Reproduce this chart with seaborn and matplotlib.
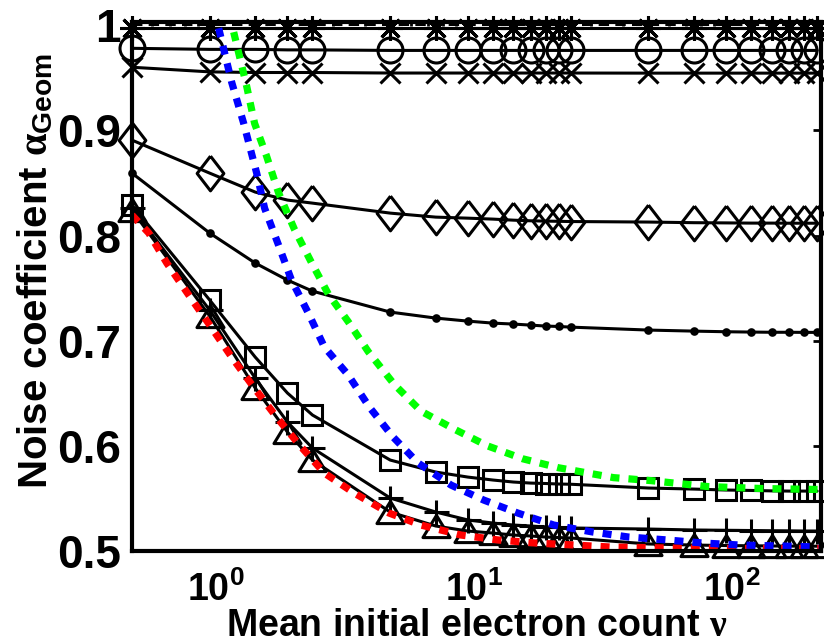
import matplotlib
matplotlib.use("Agg")
import matplotlib.pyplot as plt
import seaborn as sns
from matplotlib.transforms import ScaledTranslation

# sampled electron counts (same for all simulated series)
nu = [0.5, 1, 1.5, 2, 2.5, 5, 7.5, 10, 12.5, 15, 17.5, 20, 22.5, 25,
      50, 75, 100, 125, 150, 175, 200, 225]

alpha_star = [0.997, 0.997, 0.997, 0.997, 0.997, 0.997, 0.997, 0.997, 0.997, 0.997, 0.997,
              0.997, 0.997, 0.997, 0.997, 0.997, 0.997, 0.997, 0.997, 0.997, 0.997, 0.997]
alpha_circle = [0.978, 0.977, 0.977, 0.9765, 0.9765, 0.976, 0.976, 0.976, 0.976, 0.976, 0.976,
                0.976, 0.976, 0.976, 0.976, 0.976, 0.976, 0.976, 0.976, 0.976, 0.976, 0.976]
alpha_cross = [0.960, 0.9556, 0.955, 0.955, 0.955, 0.9545, 0.9545, 0.9545, 0.9545, 0.9545, 0.9545,
               0.9545, 0.9545, 0.9545, 0.9544, 0.9544, 0.9544, 0.9544, 0.9544, 0.9544, 0.9544, 0.9544]
alpha_diamond = [0.8907, 0.8593, 0.8413, 0.8337, 0.8308, 0.8213, 0.8175, 0.8165, 0.8156, 0.8146, 0.8140,
                 0.8137, 0.8135, 0.8133, 0.8128, 0.8122, 0.8120, 0.8118, 0.8118, 0.8117, 0.8117, 0.8117]
alpha_dot = [0.8593, 0.8023, 0.7738, 0.7576, 0.7471, 0.7272, 0.7215, 0.7186, 0.7167, 0.7158, 0.7148,
             0.7139, 0.7135, 0.7129, 0.7101, 0.7091, 0.7085, 0.7082, 0.7080, 0.7080, 0.7079, 0.7079]
alpha_square = [0.8289, 0.7386, 0.6844, 0.6502, 0.6293, 0.5865, 0.5751, 0.5703, 0.5675, 0.5656, 0.5646,
                0.5642, 0.5637, 0.5635, 0.5599, 0.5589, 0.5580, 0.5576, 0.5572, 0.5570, 0.5570, 0.5570]
alpha_plus = [0.826, 0.729, 0.6644, 0.6226, 0.5979, 0.5504, 0.5371, 0.5295, 0.5266, 0.5247, 0.5238,
              0.5228, 0.5224, 0.5219, 0.5209, 0.5200, 0.5197, 0.5195, 0.5193, 0.5192, 0.5190, 0.5190]
alpha_triangle = [0.824, 0.7234, 0.655, 0.6131, 0.5865, 0.537, 0.5238, 0.519, 0.5171, 0.5152, 0.5143,
                  0.5133, 0.5128, 0.5124, 0.5067, 0.5057, 0.5052, 0.5050, 0.5048, 0.5047, 0.5046, 0.5046]

# dotted model curves
nu_red = [0.5, 0.581, 0.682, 0.83, 1.0, 1.216, 1.479, 1.814, 2.226, 2.78, 3.63, 4.95,
          6.58, 9.4, 13.1, 18.3, 25.7, 35.7, 59, 113, 233]
alpha_red = [0.8194, 0.8023, 0.7738, 0.7433, 0.7148, 0.6844, 0.6559, 0.6274, 0.6008, 0.5741, 0.5551, 0.5361,
             0.5247, 0.5152, 0.5105, 0.5076, 0.5057, 0.5038, 0.5029, 0.5024, 0.5024]
nu_blue = [1.083, 1.216, 1.353, 1.52, 1.631, 1.847, 2.073, 2.41, 2.78, 3.44, 4.15, 5.13,
           6.41, 8.6, 11.5, 15.6, 21.5, 30.4, 41.9, 59.2, 81.5, 113, 159, 233]
alpha_blue = [0.9971, 0.9458, 0.9068, 0.8593, 0.8260, 0.7909, 0.7576, 0.7262, 0.6939, 0.6673, 0.6369, 0.6084,
              0.5837, 0.5627, 0.5485, 0.5361, 0.5247, 0.5181, 0.5133, 0.5105, 0.5076, 0.5057, 0.5048, 0.5038]
nu_green = [1.238, 1.39, 1.492, 1.66, 1.847, 2.13, 2.475, 2.88, 3.44, 4.11, 5.18, 6.58, 8.83,
            11.9, 16.3, 22.4, 36.6, 50.9, 84.5, 139, 233]
alpha_green = [0.9934, 0.942, 0.9066, 0.8755, 0.8406, 0.8057, 0.7745, 0.7443, 0.718, 0.6896, 0.6585, 0.633,
               0.616, 0.600, 0.5877, 0.5792, 0.5698, 0.567, 0.5613, 0.5594, 0.5585]

sns.set_theme(style="white")
plt.rcParams["font.family"] = ["Liberation Sans", "DejaVu Sans"]
plt.rcParams["font.weight"] = "bold"
plt.rcParams["text.color"] = "black"
plt.rcParams["axes.labelcolor"] = "black"
plt.rcParams["mathtext.fontset"] = "custom"
plt.rcParams["mathtext.rm"] = "Liberation Sans:bold"
plt.rcParams["mathtext.bf"] = "Liberation Sans:bold"
plt.rcParams["mathtext.it"] = "Liberation Serif"

fig = plt.figure(figsize=(8.24, 6.42), dpi=100, facecolor="white")
ax = fig.add_axes([0.1602, 0.1417, 0.8362, 0.824])

diamond = [(0, 1), (0.77, 0), (0, -1), (-0.77, 0), (0, 1)]
triangle = [(0, 1), (1.22, -1), (-1.22, -1), (0, 1)]

series = [
    (alpha_star, (8, 2, 0), 18),
    (alpha_circle, "o", 18),
    (alpha_cross, "x", 14),
    (alpha_diamond, diamond, 25),
    (alpha_dot, "o", 4),
    (alpha_square, "s", 14),
    (alpha_plus, "+", 18),
    (alpha_triangle, triangle, 19.5),
]
for vals, mk, ms in series:
    filled = mk == "o" and ms < 6
    sns.lineplot(x=nu, y=vals, ax=ax, color="black", linewidth=2.2, marker=mk, markersize=ms,
                 markeredgewidth=2.2, markerfacecolor="black" if filled else "none",
                 markeredgecolor="black", clip_on=False, zorder=3)

ax.axhline(1.0, color="black", linewidth=1.5, linestyle=(0, (5, 3)), zorder=2)

for xs, ys, col in [(nu_red, alpha_red, "#ff0000"), (nu_blue, alpha_blue, "#0000ff"),
                    (nu_green, alpha_green, "#00ff00")]:
    sns.lineplot(x=xs, y=ys, ax=ax, color=col, linewidth=5.2, linestyle=(0, (1.25, 1.25)), zorder=4)

ax.set_xscale("log")
ax.set_xlim(0.5, 233)
ax.set_ylim(0.5, 1.003)
ax.set_xticks([1, 10, 100])
ax.set_xticklabels([r"$\mathbf{10^{0}}$", r"$\mathbf{10^{1}}$", r"$\mathbf{10^{2}}$"])
ax.set_yticks([0.5, 0.6, 0.7, 0.8, 0.9, 1.0])
ax.set_yticklabels(["0.5", "0.6", "0.7", "0.8", "0.9", "1"])
ax.tick_params(axis="both", which="both", direction="in", top=True, right=True,
               width=2, color="black", labelcolor="black")
ax.tick_params(which="major", length=6)
ax.tick_params(which="minor", length=3)
ax.tick_params(axis="y", labelsize=33, pad=8)
ax.tick_params(axis="x", labelsize=27, pad=15)
shift = ScaledTranslation(6 / 100, 0, fig.dpi_scale_trans)
for lbl in ax.get_xticklabels():
    lbl.set_transform(lbl.get_transform() + shift)

for sp in ax.spines.values():
    sp.set_color("black")
    sp.set_linewidth(3)
    sp.set_zorder(5)

ax.set_xlabel(r"Mean initial electron count $\nu$", fontsize=27, fontweight="bold", color="black")
ax.xaxis.set_label_coords(0.5, -0.107)
ax.set_ylabel(r"Noise coefficient $\alpha_{\mathbf{Geom}}$", fontsize=29, fontweight="bold", color="black")
ax.yaxis.set_label_coords(-0.112, 0.53)

fig.savefig("out.png", dpi=100, facecolor="white")
